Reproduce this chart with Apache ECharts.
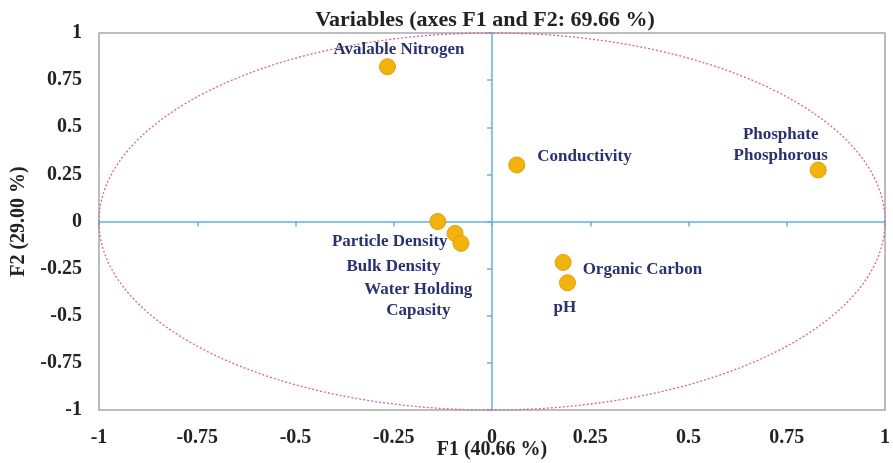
<!DOCTYPE html>
<html>
<head>
<meta charset="utf-8">
<script src="https://cdn.jsdelivr.net/npm/echarts@6/dist/echarts.min.js"></script>
<style>
  html, body { margin: 0; padding: 0; background: #fff; }
  #main { width: 893px; height: 463px; }
</style>
</head>
<body>
<div id="main"></div>
<script>
// variables on the correlation circle
var varNames = ['Avalable Nitrogen', 'Conductivity', 'Phosphate\nPhosphorous', 'Water Holding\nCapasity',
  'Particle Density', 'Bulk Density', 'Organic Carbon', 'pH'];
var f1 = [-0.266, 0.063, 0.830, -0.138, -0.094, -0.079, 0.181, 0.192];
var f2 = [0.821, 0.300, 0.273, 0.000, -0.063, -0.116, -0.217, -0.325];
// label anchor relative to the point centre, and its alignment
var labelDx = [12, 21, -37, -19, -7, -67, 20, -2];
var labelDy = [-17, -8, -24, 79, 9, 24, 8, 25];
var labelAlign = ['center', 'left', 'center', 'center', 'right', 'center', 'left', 'center'];

var tickLabels = ['-1', '-0.75', '-0.5', '-0.25', '0', '0.25', '0.5', '0.75', '1'];

var serif = '"Liberation Serif", "DejaVu Serif", serif';
var labelColor = '#2b3170';
var blue = '#62b2e2';
var symSize = 16;

var chart = echarts.init(document.getElementById('main'));

var points = [];
for (var i = 0; i < varNames.length; i++) {
  points.push({
    value: [f1[i], f2[i]],
    name: varNames[i],
    label: {
      position: [symSize / 2 + labelDx[i], symSize / 2 + labelDy[i]],
      align: labelAlign[i],
      verticalAlign: 'middle'
    }
  });
}

function fmt(v) {
  var idx = Math.round((v + 1) / 0.25);
  return tickLabels[idx];
}

var axisCommon = {
  type: 'value', min: -1, max: 1, interval: 0.25,
  splitLine: { show: false }
};

var option = {
  animation: false,
  title: {
    text: 'Variables (axes F1 and F2: 69.66 %)',
    left: 480, top: 4, textAlign: 'center',
    textStyle: { fontFamily: serif, fontWeight: 'bold', fontSize: 22, color: '#222' }
  },
  grid: {
    left: 99, right: 8, top: 33, bottom: 53,
    outerBoundsMode: 'none',
    show: true, borderColor: '#a8a8a8', borderWidth: 1.5
  },
  xAxis: [
    Object.assign({}, axisCommon, {
      position: 'bottom',
      axisLine: { show: false },
      axisTick: { show: false },
      axisLabel: { margin: 18, fontFamily: serif, fontWeight: 'bold', fontSize: 20, color: '#222', formatter: fmt },
      name: 'F1 (40.66 %)', nameLocation: 'middle', nameGap: 30, nameMoveOverlap: false,
      nameTextStyle: { fontFamily: serif, fontWeight: 'bold', fontSize: 20, color: '#222' }
    }),
    Object.assign({}, axisCommon, {
      position: 'bottom',
      axisLine: { onZero: true, lineStyle: { color: blue, width: 1.5 } },
      axisTick: { show: true, length: 5, lineStyle: { color: blue, width: 1.5 } },
      axisLabel: { show: false }
    })
  ],
  yAxis: [
    Object.assign({}, axisCommon, {
      position: 'left',
      axisLine: { show: false },
      axisTick: { show: false },
      axisLabel: { margin: 17, fontFamily: serif, fontWeight: 'bold', fontSize: 20, color: '#222', formatter: fmt },
      name: 'F2 (29.00 %)', nameLocation: 'middle', nameGap: 70, nameMoveOverlap: false,
      nameTextStyle: { fontFamily: serif, fontWeight: 'bold', fontSize: 20, color: '#222' }
    }),
    Object.assign({}, axisCommon, {
      position: 'left',
      axisLine: { onZero: true, lineStyle: { color: blue, width: 1.5 } },
      axisTick: { show: true, length: 5, lineStyle: { color: blue, width: 1.5 } },
      axisLabel: { show: false }
    })
  ],
  series: [{
    type: 'scatter',
    xAxisIndex: 0, yAxisIndex: 0,
    symbolSize: symSize,
    itemStyle: { color: '#f3b30f', borderColor: '#e39d00', borderWidth: 1, opacity: 1 },
    label: {
      show: true, formatter: '{b}',
      fontFamily: serif, fontWeight: 'bold', fontSize: 17, color: labelColor,
      lineHeight: 21
    },
    labelLayout: { hideOverlap: false },
    data: points
  }]
};

chart.setOption(option);

// correlation circle (radius 1) drawn through the grid's scale
function drawCircle() {
  var c = chart.convertToPixel({ gridIndex: 0 }, [0, 0]);
  var e = chart.convertToPixel({ gridIndex: 0 }, [1, 1]);
  chart.setOption({
    graphic: [{
      type: 'ellipse', z: 1, silent: true,
      shape: { cx: c[0], cy: c[1], rx: e[0] - c[0], ry: c[1] - e[1] },
      style: { fill: null, stroke: '#d5659c', lineWidth: 1.3, lineDash: [2, 2] }
    }]
  });
}
drawCircle();
</script>
</body>
</html>
